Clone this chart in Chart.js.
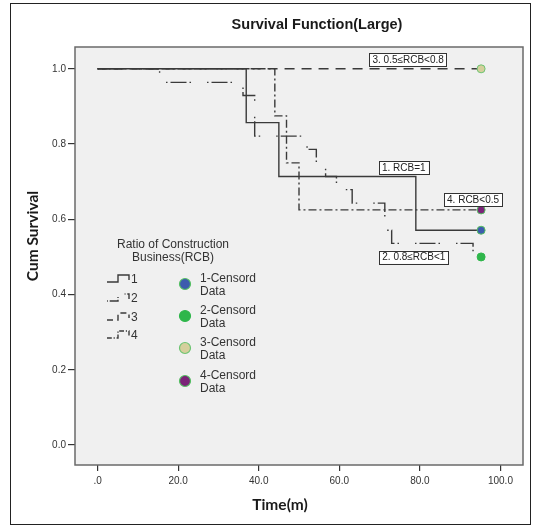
<!DOCTYPE html>
<html>
<head>
<meta charset="utf-8">
<script src="https://cdn.jsdelivr.net/npm/chart.js@4.4.0/dist/chart.umd.min.js"></script>
<style>
html, body { margin: 0; padding: 0; background: #fff; }
</style>
</head>
<body>
<canvas id="myChart" width="538" height="528"></canvas>
<script>
// tick labels
var xTicks = [0, 20, 40, 60, 80, 100];
var yTicks = [0, 0.2, 0.4, 0.6, 0.8, 1.0];

// Kaplan-Meier steps, last point = censored
var time1 = [0, 36.9, 45.0, 79.0, 95.2];
var surv1 = [1, 0.857, 0.714, 0.571, 0.571];

var time2 = [0, 15.4, 36.1, 39.0, 52.0, 54.3, 56.6, 59.3, 63.2, 71.3, 73.0, 93.2, 95.2];
var surv2 = [1, 0.964, 0.929, 0.821, 0.786, 0.750, 0.714, 0.679, 0.643, 0.571, 0.536, 0.500, 0.500];

var time3 = [0, 95.2];
var surv3 = [1, 1];

var time4 = [0, 44.0, 46.9, 50.0, 95.2];
var surv4 = [1, 0.875, 0.750, 0.625, 0.625];

var groupNames = ['1', '2', '3', '4'];
var censorNames = ['1-Censord', '2-Censord', '3-Censord', '4-Censord'];
var curveLabels = ['1. RCB=1', '2. 0.8\u2264RCB<1', '3. 0.5\u2264RCB<0.8', '4. RCB<0.5'];
// where the curve labels sit, in data units (time, survival)
var labelTime = [76.0, 78.5, 77.1, 93.2];
var labelSurv = [0.738, 0.4995, 1.025, 0.652];

var lineDash = [[], [1.5, 3, 16, 3, 1.5, 16], [10, 7], [8, 3, 2, 3]];
var censorFill = ['#3d5cae', '#2fb64b', '#d5cf9c', '#7b2378'];
var censorEdge = ['#55c062', '#2fb64b', '#6cc472', '#55c062'];

function pts(t, s) {
    return t.map(function (v, i) { return { x: v, y: s[i] }; });
}

var allTimes = [time1, time2, time3, time4];
var allSurv = [surv1, surv2, surv3, surv4];

var datasets = allTimes.map(function (t, i) {
    return {
        label: groupNames[i],
        data: pts(t, allSurv[i]),
        stepped: true,
        borderColor: '#3a3a3a',
        borderWidth: 1.4,
        borderDash: lineDash[i],
        fill: false,
        pointRadius: function (ctx) {
            return ctx.dataIndex === ctx.dataset.data.length - 1 ? 4 : 0;
        },
        pointBackgroundColor: censorFill[i],
        pointBorderColor: censorEdge[i],
        pointBorderWidth: 1
    };
});

var decor = {
    id: 'decor',
    beforeDraw: function (chart) {
        var c = chart.ctx, a = chart.chartArea;
        c.save();
        c.fillStyle = '#fff';
        c.fillRect(0, 0, chart.width, chart.height);
        c.strokeStyle = '#222';
        c.lineWidth = 1;
        c.strokeRect(10.5, 3.5, 520, 521);
        c.fillStyle = '#f0f0f0';
        c.fillRect(a.left, a.top, a.right - a.left, a.bottom - a.top);
        c.restore();
    },
    afterDatasetsDraw: function (chart) {
        var c = chart.ctx, a = chart.chartArea;
        var xs = chart.scales.x, ys = chart.scales.y;
        c.save();
        // plot frame
        c.strokeStyle = '#6a6a6a';
        c.lineWidth = 1.5;
        c.strokeRect(a.left, a.top, a.right - a.left, a.bottom - a.top);

        // curve labels
        c.font = '10px "Liberation Sans", Arial, sans-serif';
        c.textAlign = 'center';
        c.textBaseline = 'middle';
        curveLabels.forEach(function (txt, i) {
            var cx = xs.getPixelForValue(labelTime[i]);
            var cy = ys.getPixelForValue(labelSurv[i]);
            var w = c.measureText(txt).width + 6;
            var h = 13;
            c.fillStyle = '#fff';
            c.fillRect(cx - w / 2, cy - h / 2, w, h);
            c.strokeStyle = '#333';
            c.lineWidth = 1;
            c.strokeRect(Math.round(cx - w / 2) + 0.5, Math.round(cy - h / 2) + 0.5, Math.round(w), h);
            c.fillStyle = '#222';
            c.fillText(txt, cx, cy + 0.5);
        });

        // legend
        c.fillStyle = '#333';
        c.font = '12px "Liberation Sans", Arial, sans-serif';
        c.textAlign = 'center';
        c.fillText('Ratio of Construction', 173, 245);
        c.fillText('Business(RCB)', 173, 258);
        var rowY = [279, 298, 317, 335];
        c.textAlign = 'left';
        rowY.forEach(function (y, i) {
            c.strokeStyle = '#3a3a3a';
            c.lineWidth = 1.4;
            c.setLineDash(lineDash[i].map(function (d) { return d * 0.6; }));
            c.beginPath();
            c.moveTo(107, y + 3);
            c.lineTo(118, y + 3);
            c.lineTo(118, y - 4);
            c.lineTo(129, y - 4);
            c.lineTo(129, y + 1);
            c.stroke();
            c.setLineDash([]);
            c.fillStyle = '#333';
            c.fillText(groupNames[i], 131, y + 0.5);
        });
        var cenY = [284, 316, 348, 381];
        cenY.forEach(function (y, i) {
            c.beginPath();
            c.arc(185, y, 5.5, 0, Math.PI * 2);
            c.fillStyle = censorFill[i];
            c.fill();
            c.strokeStyle = censorEdge[i];
            c.lineWidth = 1.2;
            c.stroke();
            c.fillStyle = '#333';
            c.fillText(censorNames[i], 200, y - 5);
            c.fillText('Data', 200, y + 7.5);
        });

        // titles
        c.fillStyle = '#1a1a1a';
        c.textAlign = 'center';
        c.font = 'bold 14.5px "Liberation Sans", Arial, sans-serif';
        c.fillText('Survival Function(Large)', 317, 25);
        c.font = 'bold 15.5px Lato, "Liberation Sans", sans-serif';
        c.fillText('Time(m)', 280, 505);
        c.translate(33, 236);
        c.rotate(-Math.PI / 2);
        c.fillText('Cum Survival', 0, 0);
        c.restore();
    }
};

var ctx = document.getElementById('myChart');
var myChart = new Chart(ctx, {
    type: 'line',
    data: { datasets: datasets },
    options: {
        responsive: false,
        animation: false,
        layout: { padding: { left: 0, top: 47, right: 15, bottom: 0 } },
        plugins: {
            legend: { display: false },
            tooltip: { enabled: false },
            title: { display: false }
        },
        scales: {
            x: {
                type: 'linear',
                min: -5.6,
                max: 105.6,
                afterBuildTicks: function (axis) {
                    axis.ticks = xTicks.map(function (v) { return { value: v }; });
                },
                afterFit: function (axis) { axis.height = 63; },
                border: { display: false },
                grid: {
                    drawOnChartArea: false,
                    drawTicks: true,
                    tickLength: 6,
                    color: '#333',
                    lineWidth: 1.2
                },
                ticks: {
                    padding: 4,
                    maxRotation: 0,
                    color: '#333',
                    font: { family: '"Liberation Sans", Arial, sans-serif', size: 10 },
                    callback: function (v) { return v === 0 ? '.0' : v.toFixed(1); }
                }
            },
            y: {
                type: 'linear',
                min: -0.053,
                max: 1.058,
                afterBuildTicks: function (axis) {
                    axis.ticks = yTicks.map(function (v) { return { value: v }; });
                },
                afterFit: function (axis) { axis.width = 75; },
                border: { display: false },
                grid: {
                    drawOnChartArea: false,
                    drawTicks: true,
                    tickLength: 7,
                    color: '#333',
                    lineWidth: 1.2
                },
                ticks: {
                    padding: 2,
                    color: '#333',
                    font: { family: '"Liberation Sans", Arial, sans-serif', size: 10 },
                    callback: function (v) { return v.toFixed(1); }
                }
            }
        }
    },
    plugins: [decor]
});
</script>
</body>
</html>
